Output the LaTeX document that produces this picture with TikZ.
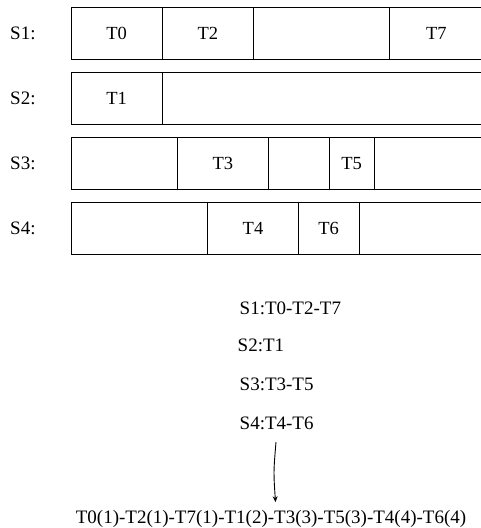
\documentclass[tikz,border=0pt]{standalone}
\usepackage{fontspec}
\setmainfont{Liberation Serif}
\usetikzlibrary{arrows.meta}
\begin{document}
\begin{tikzpicture}[x=1pt,y=-1pt,
  cell/.style={draw=black, line width=0.9pt, minimum height=52pt, inner sep=0pt, font=\fontsize{18.5}{20}\selectfont},
  rowlab/.style={anchor=west, inner sep=0pt, font=\fontsize{19}{20}\selectfont},
  sumtxt/.style={anchor=west, inner sep=0pt, font=\fontsize{19}{20}\selectfont},
  arr/.style={-{Stealth[length=6pt,width=5pt]}, line width=0.9pt}]
\useasboundingbox (0,0) rectangle (480,528);
% row S1
\node[rowlab] (l1) at (10,33.7) {S1:};
\node[cell, minimum width=91.3pt] (c10) at (116.65,33.7) {T0};
\node[cell, minimum width=91pt] (c11) at (207.8,33.7) {T2};
\node[cell, minimum width=136pt] (c12) at (321.3,33.7) {};
\node[cell, minimum width=94pt] (c13) at (436.3,33.7) {T7};
% row S2
\node[rowlab] (l2) at (10,98.8) {S2:};
\node[cell, minimum width=91.3pt] (c20) at (116.65,98.8) {T1};
\node[cell, minimum width=321pt] (c21) at (322.8,98.8) {};
% row S3
\node[rowlab] (l3) at (10,163.5) {S3:};
\node[cell, minimum width=106.3pt] (c30) at (124.15,163.5) {};
\node[cell, minimum width=91pt] (c31) at (222.8,163.5) {T3};
\node[cell, minimum width=60.7pt] (c32) at (298.65,163.5) {};
\node[cell, minimum width=45.3pt] (c33) at (351.65,163.5) {T5};
\node[cell, minimum width=110pt] (c34) at (429.3,163.5) {};
% row S4
\node[rowlab] (l4) at (10,228.5) {S4:};
\node[cell, minimum width=136.7pt] (c40) at (139.35,228.5) {};
\node[cell, minimum width=90.6pt] (c41) at (253,228.5) {T4};
\node[cell, minimum width=60.7pt] (c42) at (328.65,228.5) {T6};
\node[cell, minimum width=125pt] (c43) at (421.5,228.5) {};
% summaries
\node[sumtxt] (s1) at (239.5,308) {S1:T0-T2-T7};
\node[sumtxt] (s2) at (237.5,345.5) {S2:T1};
\node[sumtxt] (s3) at (239.5,384) {S3:T3-T5};
\node[sumtxt] (s4) at (239.5,423) {S4:T4-T6};
\node[sumtxt, anchor=center] (fin) at (271,519) {T0(1)-T2(1)-T7(1)-T1(2)-T3(3)-T5(3)-T4(4)-T6(4)};
\coordinate (a0) at (276,442);
\draw[arr] (a0) .. controls (273.5,472) .. ([xshift=4.5pt,yshift=8pt]fin.north);
\end{tikzpicture}
\end{document}
